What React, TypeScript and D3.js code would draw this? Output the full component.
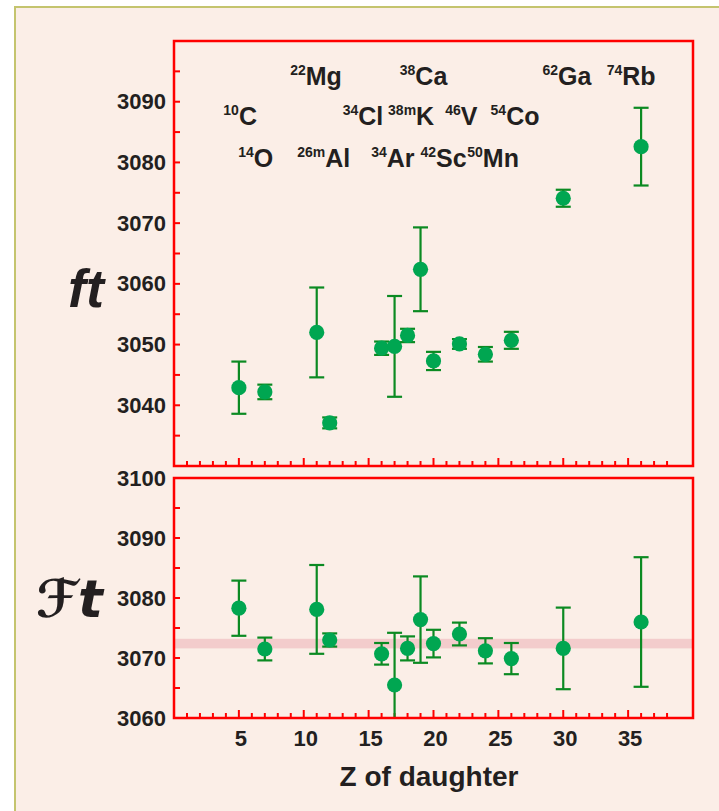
import React from "react";
import * as d3 from "d3";

// Z of daughter nucleus
const zDaughter = [5, 7, 11, 12, 16, 17, 18, 19, 20, 22, 24, 26, 30, 36];
// uncorrected ft values and uncertainties
const ftValues = [3042.9, 3042.2, 3052.0, 3037.1, 3049.4, 3049.7, 3051.5, 3062.4, 3047.3, 3050.1, 3048.4, 3050.7, 3074.1, 3082.6];
const ftErrors = [4.3, 1.2, 7.4, 0.9, 1.1, 8.3, 1.1, 6.9, 1.5, 0.8, 1.2, 1.4, 1.4, 6.4];
// corrected Ft values and uncertainties
const FtValues = [3078.3, 3071.5, 3078.1, 3073.0, 3070.7, 3065.5, 3071.6, 3076.4, 3072.4, 3074.0, 3071.2, 3069.9, 3071.6, 3076.0];
const FtErrors = [4.6, 1.9, 7.4, 1.1, 1.8, 8.7, 2.0, 7.2, 2.3, 1.9, 2.1, 2.6, 6.8, 10.8];
// weighted average band
const FtMean = 3072.4;
const FtMeanErr = 0.8;

// nuclide labels (mass number superscript, element), placed in data coordinates
const labelSup = ["22", "38", "62", "74", "10", "34", "38m", "46", "54", "14", "26m", "34", "42", "50"];
const labelEl = ["Mg", "Ca", "Ga", "Rb", "C", "Cl", "K", "V", "Co", "O", "Al", "Ar", "Sc", "Mn"];
const labelX = [8.95, 17.4, 28.4, 33.35, 3.8, 13.0, 16.5, 20.9, 24.4, 4.95, 9.5, 15.2, 19.0, 22.6];
const labelRow = [0, 0, 0, 0, 1, 1, 1, 1, 1, 2, 2, 2, 2, 2];
const rowValues = [3092.8, 3086.2, 3079.3];

const xTickLabels = [5, 10, 15, 20, 25, 30, 35];
const ftTickLabels = [3040, 3050, 3060, 3070, 3080, 3090];
const FtTickLabels = [3060, 3070, 3080, 3090, 3100];

const W = 719;
const H = 811;
const left = 174;
const right = 693;
const top1 = 41;
const bot1 = 466;
const top2 = 478;
const bot2 = 718;

const RED = "#FF0000";
const GREEN = "#00A651";
const EGREEN = "#0B8A22";
const TXT = "#231F20";
const FONT = "'Liberation Sans', Arial, sans-serif";

export default function App() {
  const x = d3.scaleLinear().domain([0, 40]).range([left, right]);
  const y1 = d3.scaleLinear().domain([3030, 3100]).range([bot1, top1]);
  const y2 = d3.scaleLinear().domain([3060, 3100]).range([bot2, top2]);

  const xMinor = d3.range(1, 39);

  const panelTicks = (y: d3.ScaleLinear<number, number>, yb: number, lo: number, hi: number) => (
    <g>
      {d3.range(lo, hi + 0.1, 5).map((v) => (
        <line key={"y" + v} x1={left} x2={left + 6} y1={y(v)} y2={y(v)} stroke={RED} strokeWidth={2} />
      ))}
      {xMinor.map((v) => (
        <line key={"x" + v} x1={x(v)} x2={x(v)} y1={yb} y2={yb - (v % 5 === 0 ? 8 : 5)} stroke={RED} strokeWidth={2} />
      ))}
    </g>
  );

  const errorBars = (vals: number[], errs: number[], y: d3.ScaleLinear<number, number>, yTop: number, yBot: number) =>
    zDaughter.map((z, i) => {
      const cx = x(z);
      const hi = y(vals[i] + errs[i]);
      const lo = y(vals[i] - errs[i]);
      const loC = Math.min(lo, yBot);
      const hiC = Math.max(hi, yTop);
      return (
        <g key={"e" + i}>
          <line x1={cx} x2={cx} y1={hiC} y2={loC} stroke={EGREEN} strokeWidth={2.2} />
          {hi >= yTop && <line x1={cx - 7.5} x2={cx + 7.5} y1={hi} y2={hi} stroke={EGREEN} strokeWidth={2.2} />}
          {lo <= yBot && <line x1={cx - 7.5} x2={cx + 7.5} y1={lo} y2={lo} stroke={EGREEN} strokeWidth={2.2} />}
          <circle cx={cx} cy={y(vals[i])} r={7.6} fill={GREEN} />
        </g>
      );
    });

  return (
    <svg width={W} height={H} style={{ position: "absolute", left: 0, top: 0, display: "block" }} fontFamily={FONT}>
      <rect x={0} y={0} width={W} height={H} fill="#FFFFFF" />
      <rect x={15} y={7} width={W - 15} height={H - 7} fill="#FBEEE7" />
      <line x1={15} x2={15} y1={6} y2={H} stroke="#C4C46E" strokeWidth={2} />
      <line x1={14} x2={W} y1={7} y2={7} stroke="#C4C46E" strokeWidth={2} />

      {/* top panel */}
      {panelTicks(y1, bot1, 3035, 3095)}
      {ftTickLabels.map((v) => (
        <text key={v} x={166} y={y1(v) + 7.5} textAnchor="end" fontSize={22} fontWeight="bold" fill={TXT}>
          {v}
        </text>
      ))}
      {labelEl.map((el, i) => (
        <text key={"l" + i} x={x(labelX[i])} y={y1(rowValues[labelRow[i]])} fontWeight="bold" fill={TXT}>
          <tspan fontSize={14} dy={-10}>{labelSup[i]}</tspan>
          <tspan fontSize={25} dy={10}>{el}</tspan>
        </text>
      ))}
      {errorBars(ftValues, ftErrors, y1, top1, bot1)}
      <rect x={left} y={top1} width={right - left} height={bot1 - top1} fill="none" stroke={RED} strokeWidth={2.5} />
      <text x={68} y={307} fontSize={54} fontWeight="bold" fontStyle="italic" fill={TXT}>
        ft
      </text>

      {/* bottom panel */}
      <rect x={left} y={y2(FtMean + FtMeanErr)} width={right - left} height={y2(FtMean - FtMeanErr) - y2(FtMean + FtMeanErr)} fill="#F3CCCC" />
      {panelTicks(y2, bot2, 3065, 3095)}
      {FtTickLabels.map((v) => (
        <text key={v} x={166} y={y2(v) + 7.5} textAnchor="end" fontSize={22} fontWeight="bold" fill={TXT}>
          {v}
        </text>
      ))}
      {errorBars(FtValues, FtErrors, y2, top2, bot2)}
      <rect x={left} y={top2} width={right - left} height={bot2 - top2} fill="none" stroke={RED} strokeWidth={2.5} />
      <text x={36} y={617} fontSize={52} fontWeight="bold" fontStyle="italic" fill={TXT} fontFamily="'DejaVu Sans', sans-serif">
        ℱt
      </text>

      {/* x axis labels */}
      {xTickLabels.map((v) => (
        <text key={v} x={x(v) + 2} y={746} textAnchor="middle" fontSize={22} fontWeight="bold" fill={TXT}>
          {v}
        </text>
      ))}
      <text x={429} y={786} textAnchor="middle" fontSize={28} fontWeight="bold" fill={TXT}>
        Z of daughter
      </text>
    </svg>
  );
}
